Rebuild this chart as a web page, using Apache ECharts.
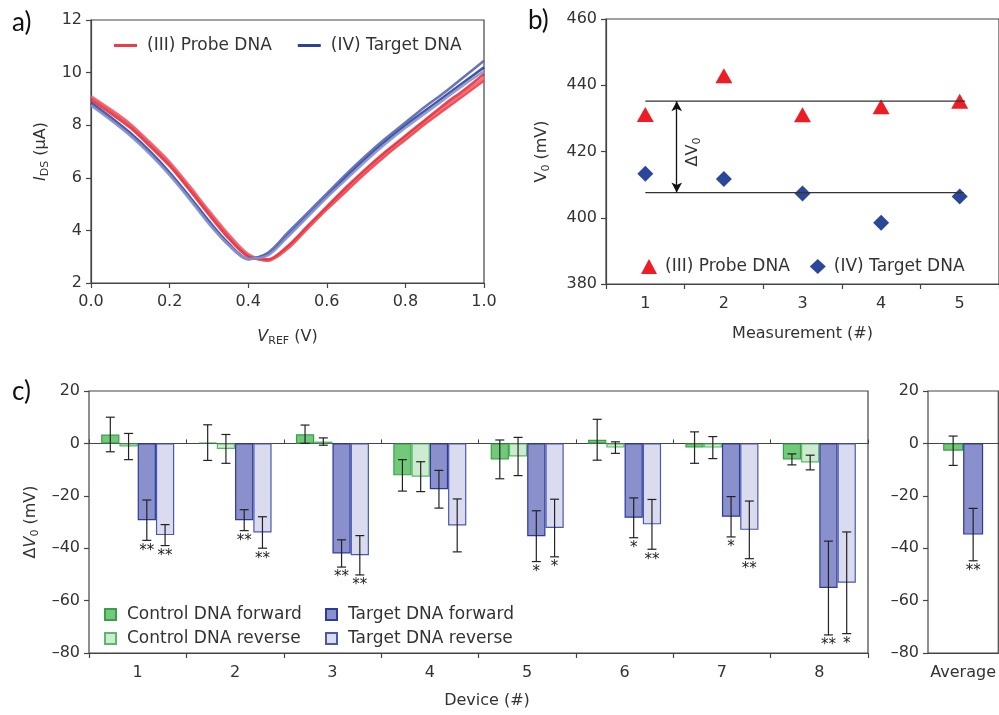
<!DOCTYPE html>
<html>
<head>
<meta charset="utf-8">
<title>DNA sensor</title>
<script src="https://cdn.jsdelivr.net/npm/echarts/dist/echarts.min.js"></script>
<style>
    html, body { margin: 0; padding: 0; background: #fff; }
    #main { width: 999px; height: 715px; }
</style>
</head>
<body>
<div id="main"></div>
<script>
// a) transfer curves, V_REF sweep
var sweepV = [0, 0.05, 0.1, 0.15, 0.2, 0.25, 0.3, 0.35, 0.4, 0.45, 0.5, 0.55, 0.6, 0.65, 0.7, 0.75, 0.8, 0.85, 0.9, 0.95, 1.0];
var probeCurve1 = [9.05, 8.55, 8.0, 7.3, 6.55, 5.65, 4.7, 3.8, 3.05, 2.85, 3.3, 4.05, 4.8, 5.5, 6.2, 6.85, 7.45, 8.05, 8.6, 9.15, 9.7];
var probeCurve2 = [9.1, 8.6, 8.05, 7.35, 6.6, 5.7, 4.75, 3.85, 3.1, 2.85, 3.35, 4.1, 4.85, 5.6, 6.3, 6.95, 7.55, 8.15, 8.7, 9.25, 9.8];
var probeCurve3 = [8.95, 8.45, 7.9, 7.2, 6.45, 5.55, 4.6, 3.7, 3.0, 2.9, 3.4, 4.15, 4.9, 5.65, 6.35, 7.0, 7.6, 8.2, 8.8, 9.35, 9.95];
var targetCurve1 = [8.85, 8.3, 7.7, 7.0, 6.2, 5.3, 4.35, 3.5, 2.92, 3.1, 3.8, 4.55, 5.3, 6.05, 6.75, 7.4, 8.0, 8.55, 9.1, 9.65, 10.2];
var targetCurve2 = [8.8, 8.25, 7.65, 6.95, 6.15, 5.25, 4.3, 3.45, 2.9, 3.15, 3.9, 4.65, 5.4, 6.15, 6.85, 7.5, 8.1, 8.7, 9.25, 9.85, 10.45];
var targetCurve3 = [8.75, 8.2, 7.6, 6.9, 6.1, 5.2, 4.25, 3.45, 2.92, 3.05, 3.75, 4.5, 5.25, 5.95, 6.65, 7.3, 7.9, 8.45, 9.0, 9.55, 10.05];

// b) V0 per measurement
var measurements = ['1', '2', '3', '4', '5'];
var probeV0 = [431.2, 442.9, 431.1, 433.5, 435.2];
var targetV0 = [413.3, 411.7, 407.3, 398.5, 406.4];
var probeLevel = 435.2;
var targetLevel = 407.6;

// c) delta V0 per device
var devices = ['1', '2', '3', '4', '5', '6', '7', '8'];
var ctrlFwd = [3.4, 0.3, 3.5, -12.2, -6.1, 1.4, -1.6, -6.1];
var ctrlFwdErr = [6.6, 6.8, 3.5, 6.0, 7.4, 7.8, 6.0, 2.1];
var ctrlRev = [-1.2, -2.1, 0.7, -12.7, -5.0, -1.6, -1.6, -7.3];
var ctrlRevErr = [5.0, 5.5, 1.4, 5.7, 7.3, 2.2, 4.2, 2.8];
var tgtFwd = [-29.3, -29.3, -42.0, -17.5, -35.4, -28.4, -28.0, -55.2];
var tgtFwdErr = [7.7, 4.0, 5.2, 7.2, 9.7, 7.6, 7.7, 17.9];
var tgtRev = [-35.0, -34.0, -42.7, -31.3, -32.3, -30.9, -33.0, -53.2];
var tgtRevErr = [4.0, 6.0, 7.5, 10.1, 11.0, 9.5, 11.0, 19.4];
var tgtFwdStars = ['**', '**', '**', '', '*', '*', '*', '**'];
var tgtRevStars = ['**', '**', '**', '', '*', '**', '**', '*'];
var avgCats = ['Average'];
var avgCtrl = [-2.8];
var avgCtrlErr = [5.6];
var avgTgt = [-34.8];
var avgTgtErr = [10.0];
var avgTgtStars = ['**'];

var FONT = 'DejaVu Sans';
var TXT = '#333';
var AXIS = '#444';

var legendNames = {
    probeCurve: '(III) Probe DNA',
    targetCurve: '(IV) Target DNA',
    probeV0: '(III) Probe DNA',
    targetV0: '(IV) Target DNA'
};

function dash(v) {
    return String(v).replace('-', '\u2013');
}

function axisBase() {
    return {
        axisLine: { onZero: false, lineStyle: { color: AXIS, width: 1.2 } },
        axisTick: { show: true, length: 5, lineStyle: { color: AXIS, width: 1.2 } },
        axisLabel: { color: TXT, fontFamily: FONT, fontSize: 16, margin: 9 },
        splitLine: { show: false },
        nameTextStyle: { color: TXT, fontFamily: FONT, fontSize: 16 }
    };
}

function merge(a, b) {
    for (var k in b) { a[k] = b[k]; }
    return a;
}

/**
 * 画误差棒和星号, slot 是条形在类目中的偏移（以条宽为单位）
 */
function errorSeries(xIdx, yIdx, values, errs, stars, slot, barFrac, fixedWidth) {
    return {
        type: 'custom',
        xAxisIndex: xIdx,
        yAxisIndex: yIdx,
        silent: true,
        z: 5,
        data: values.map(function (v, i) { return [i, v, errs[i]]; }),
        renderItem: function (params, api) {
            var i = api.value(0), v = api.value(1), e = api.value(2);
            var band = api.size([1, 0])[0];
            var bw = fixedWidth || band * barFrac;
            var x = api.coord([i, v])[0] + slot * bw;
            var top = api.coord([i, v + e])[1];
            var bot = api.coord([i, v - e])[1];
            var st = { stroke: '#222', lineWidth: 1.2 };
            var kids = [
                { type: 'line', shape: { x1: x, y1: top, x2: x, y2: bot }, style: st },
                { type: 'line', shape: { x1: x - 4.5, y1: top, x2: x + 4.5, y2: top }, style: st },
                { type: 'line', shape: { x1: x - 4.5, y1: bot, x2: x + 4.5, y2: bot }, style: st }
            ];
            var s = stars ? stars[params.dataIndex] : '';
            if (s) {
                kids.push({
                    type: 'text',
                    style: {
                        x: x, y: bot + 3, text: s, fill: '#222',
                        font: '15px ' + FONT, textAlign: 'center', textVerticalAlign: 'top'
                    }
                });
            }
            return { type: 'group', children: kids };
        }
    };
}

function curveSeries(name, ys, color) {
    return {
        name: name,
        type: 'line',
        xAxisIndex: 0,
        yAxisIndex: 0,
        smooth: 0.3,
        symbol: 'none',
        data: sweepV.map(function (v, i) { return [v, ys[i]]; }),
        lineStyle: { color: color, width: 2.6, opacity: 0.9 },
        itemStyle: { color: color }
    };
}

function barSeries(name, xIdx, yIdx, values, fill, border, extra) {
    return merge({
        name: name,
        type: 'bar',
        xAxisIndex: xIdx,
        yAxisIndex: yIdx,
        data: values,
        barGap: '0%',
        itemStyle: { color: fill, borderColor: border, borderWidth: 1.2 }
    }, extra || {});
}

var subRich = {
    i: { fontStyle: 'italic', fontFamily: FONT, fontSize: 16, color: TXT },
    s: { fontFamily: FONT, fontSize: 11, color: TXT, padding: [9, 0, 0, 0] },
    n: { fontFamily: FONT, fontSize: 16, color: TXT }
};

var myChart = echarts.init(document.getElementById('main'));
var option = {
    backgroundColor: '#fff',
    animation: false,
    textStyle: { fontFamily: FONT },
    grid: [
        { left: 91, top: 20, width: 393, height: 263, show: true, borderColor: AXIS, borderWidth: 1.2 },
        { left: 606, top: 19, width: 394, height: 265, show: true, borderColor: AXIS, borderWidth: 1.2 },
        { left: 89, top: 391, width: 779, height: 262, show: true, borderColor: AXIS, borderWidth: 1.2 },
        { left: 928, top: 391, width: 72, height: 262, show: true, borderColor: AXIS, borderWidth: 1.2 }
    ],
    xAxis: [
        merge(axisBase(), {
            gridIndex: 0, type: 'value', min: 0, max: 1, interval: 0.2,
            name: '{i|V}{s|REF}{n| (V)}', nameLocation: 'middle', nameGap: 44,
            nameTextStyle: { rich: subRich },
            axisLabel: { color: TXT, fontFamily: FONT, fontSize: 16, margin: 11,
                formatter: function (v) { return v.toFixed(1); } }
        }),
        merge(axisBase(), {
            gridIndex: 1, type: 'category', data: measurements,
            name: 'Measurement (#)', nameLocation: 'middle', nameGap: 42,
            axisLabel: { color: TXT, fontFamily: FONT, fontSize: 16, margin: 12 }
        }),
        { gridIndex: 1, type: 'value', min: 0.5, max: 5.5, show: false, position: 'top' },
        merge(axisBase(), {
            gridIndex: 2, type: 'category', data: devices,
            name: 'Device (#)', nameLocation: 'middle', nameGap: 40,
            nameTextStyle: { color: TXT, fontFamily: FONT, fontSize: 16, padding: [0, 0, 0, 17] },
            axisLabel: { color: TXT, fontFamily: FONT, fontSize: 16, margin: 12 }
        }),
        {
            gridIndex: 2, type: 'category', data: devices, position: 'top',
            axisLine: { onZero: true, lineStyle: { color: AXIS, width: 1.2 } },
            axisTick: { show: true, length: 4, lineStyle: { color: AXIS } },
            axisLabel: { show: false }
        },
        merge(axisBase(), {
            gridIndex: 3, type: 'category', data: avgCats,
            axisTick: { show: false },
            axisLabel: { color: TXT, fontFamily: FONT, fontSize: 16, margin: 12 }
        }),
        {
            gridIndex: 3, type: 'category', data: avgCats, position: 'top',
            axisLine: { onZero: true, lineStyle: { color: AXIS, width: 1.2 } },
            axisTick: { show: false },
            axisLabel: { show: false }
        }
    ],
    yAxis: [
        merge(axisBase(), {
            gridIndex: 0, type: 'value', min: 2, max: 12, interval: 2,
            name: '{i|I}{s|DS}{n| (\u03bcA)}', nameLocation: 'middle', nameGap: 40,
            nameTextStyle: { rich: subRich }
        }),
        merge(axisBase(), {
            gridIndex: 1, type: 'value', min: 380, max: 460, interval: 20,
            name: '{n|V}{s|0}{n| (mV)}', nameLocation: 'middle', nameGap: 54,
            nameTextStyle: { rich: subRich }
        }),
        merge(axisBase(), {
            gridIndex: 2, type: 'value', min: -80, max: 20, interval: 20,
            name: '{n|\u0394}{i|V}{s|0}{n| (mV)}', nameLocation: 'middle', nameGap: 48,
            nameTextStyle: { rich: subRich },
            axisLabel: { color: TXT, fontFamily: FONT, fontSize: 16, margin: 9, formatter: dash }
        }),
        merge(axisBase(), {
            gridIndex: 3, type: 'value', min: -80, max: 20, interval: 20,
            axisLabel: { color: TXT, fontFamily: FONT, fontSize: 16, margin: 9, formatter: dash }
        })
    ],
    legend: [
        {
            data: [{ name: 'probeCurve', icon: 'rect' }, { name: 'targetCurve', icon: 'rect' }],
            left: 109, top: 32, itemWidth: 23, itemHeight: 3, itemGap: 26,
            formatter: function (n) { return legendNames[n]; },
            textStyle: { color: TXT, fontFamily: FONT, fontSize: 17, padding: [0, 0, 0, 5] }
        },
        {
            data: [{ name: 'probeV0', icon: 'triangle' }, { name: 'targetV0', icon: 'diamond' }],
            left: 636, top: 253, itemWidth: 16, itemHeight: 15, itemGap: 20,
            formatter: function (n) { return legendNames[n]; },
            textStyle: { color: TXT, fontFamily: FONT, fontSize: 17, padding: [0, 0, 0, 3] }
        },
        {
            data: ['Control DNA forward', 'Control DNA reverse'], orient: 'vertical',
            left: 99, top: 601, itemWidth: 11, itemHeight: 11, itemGap: 7, icon: 'rect',
            textStyle: { color: TXT, fontFamily: FONT, fontSize: 17, padding: [0, 0, 0, 6] }
        },
        {
            data: ['Target DNA forward', 'Target DNA reverse'], orient: 'vertical',
            left: 320, top: 601, itemWidth: 11, itemHeight: 11, itemGap: 7, icon: 'rect',
            textStyle: { color: TXT, fontFamily: FONT, fontSize: 17, padding: [0, 0, 0, 6] }
        }
    ],
    graphic: [
        { type: 'text', left: 12, top: 10, style: { text: 'a)', font: '26px Lato', fill: '#111' } },
        { type: 'text', left: 528, top: 8, style: { text: 'b)', font: '26px Lato', fill: '#111' } },
        { type: 'text', left: 12, top: 379, style: { text: 'c)', font: '26px Lato', fill: '#111' } },
        {
            type: 'text', x: 693, y: 152, rotation: Math.PI / 2,
            style: {
                text: '{n|\u0394V}{s|0}', align: 'center', verticalAlign: 'middle',
                rich: {
                    n: { fontFamily: FONT, fontSize: 16, fill: TXT },
                    s: { fontFamily: FONT, fontSize: 11, fill: TXT, padding: [9, 0, 0, 0] }
                }
            }
        }
    ],
    series: [
        curveSeries('probeCurve', probeCurve1, '#ee3d48'),
        curveSeries('probeCurve', probeCurve2, '#f0606a'),
        curveSeries('probeCurve', probeCurve3, '#e8323e'),
        curveSeries('targetCurve', targetCurve1, '#2f4196'),
        curveSeries('targetCurve', targetCurve2, '#5566b4'),
        curveSeries('targetCurve', targetCurve3, '#8594cf'),
        {
            name: 'probeV0', type: 'scatter', xAxisIndex: 1, yAxisIndex: 1,
            data: probeV0, symbol: 'triangle', symbolSize: [17, 15],
            itemStyle: { color: '#ee1c25', opacity: 1 }
        },
        {
            name: 'targetV0', type: 'scatter', xAxisIndex: 1, yAxisIndex: 1,
            data: targetV0, symbol: 'diamond', symbolSize: [16, 16],
            itemStyle: { color: '#2a479a', opacity: 1 }
        },
        {
            type: 'line', xAxisIndex: 2, yAxisIndex: 1, symbol: 'none', silent: true,
            data: [[1, probeLevel], [5.07, probeLevel]],
            lineStyle: { color: '#333', width: 1.3 },
            markLine: {
                silent: true, symbol: ['arrow', 'arrow'], symbolSize: [8, 10],
                label: { show: false },
                lineStyle: { color: '#111', width: 1.3, type: 'solid' },
                data: [[{ coord: [1.4, probeLevel] }, { coord: [1.4, targetLevel] }]]
            }
        },
        {
            type: 'line', xAxisIndex: 2, yAxisIndex: 1, symbol: 'none', silent: true,
            data: [[1, targetLevel], [5.05, targetLevel]],
            lineStyle: { color: '#333', width: 1.3 }
        },
        barSeries('Control DNA forward', 3, 2, ctrlFwd, '#72c97a', '#3aa048', { barCategoryGap: '25%' }),
        barSeries('Control DNA reverse', 3, 2, ctrlRev, '#cdebd0', '#5ab866', { barCategoryGap: '25%' }),
        barSeries('Target DNA forward', 3, 2, tgtFwd, '#8a90cc', '#2c3a98', { barCategoryGap: '25%' }),
        barSeries('Target DNA reverse', 3, 2, tgtRev, '#dadbef', '#4a58b0', { barCategoryGap: '25%' }),
        barSeries('Control DNA forward', 5, 3, avgCtrl, '#72c97a', '#3aa048', { barWidth: 20 }),
        barSeries('Target DNA forward', 5, 3, avgTgt, '#8a90cc', '#2c3a98', { barWidth: 20 }),
        errorSeries(3, 2, ctrlFwd, ctrlFwdErr, null, -1.5, 0.75 / 4),
        errorSeries(3, 2, ctrlRev, ctrlRevErr, null, -0.5, 0.75 / 4),
        errorSeries(3, 2, tgtFwd, tgtFwdErr, tgtFwdStars, 0.5, 0.75 / 4),
        errorSeries(3, 2, tgtRev, tgtRevErr, tgtRevStars, 1.5, 0.75 / 4),
        errorSeries(5, 3, avgCtrl, avgCtrlErr, null, -0.5, 0, 20),
        errorSeries(5, 3, avgTgt, avgTgtErr, avgTgtStars, 0.5, 0, 20)
    ]
};
myChart.setOption(option, true);
</script>
</body>
</html>
